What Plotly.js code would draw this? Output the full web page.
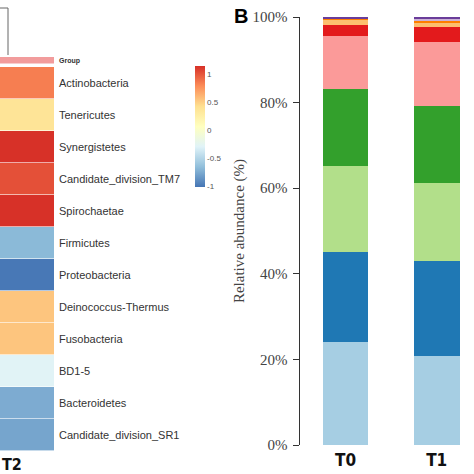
<!DOCTYPE html>
<html>
<head>
<meta charset="utf-8">
<script src="https://cdn.plot.ly/plotly-3.0.1.min.js"></script>
<style>html,body{margin:0;padding:0;background:#fff;}#chart{width:474px;height:474px;}</style>
</head>
<body>
<div id="chart"></div>
<script>
// ---- Heatmap (panel A, cropped: only column T2 visible) ----
var heatColumns = ['T2'];
var phyla = ['Actinobacteria','Tenericutes','Synergistetes','Candidate_division_TM7','Spirochaetae',
             'Firmicutes','Proteobacteria','Deinococcus-Thermus','Fusobacteria','BD1-5',
             'Bacteroidetes','Candidate_division_SR1'];
var heatValues = [0.85, 0.38, 1.15, 1.03, 1.15, -0.68, -1.0, 0.55, 0.55, -0.28, -0.75, -0.78];
var colorbarTicks = [-1, -0.5, 0, 0.5, 1];
var colorbarTickText = ['-1', '-0.5', '0', '0.5', '1'];
var groupLabel = 'Group';

// ---- Stacked bars (panel B) ----
var samples = ['T0', 'T1'];
var seriesNames = ['s1','s2','s3','s4','s5','s6','s7','s8','s9','s10'];
var seriesColors = ['#A6CEE3','#1F78B4','#B2DF8A','#33A02C','#FB9A99','#E31A1C','#FDBF6F','#FF7F00','#CAB2D6','#6A3D9A'];
var seriesT0 = [24.1, 21.0, 20.0, 18.0, 12.5, 2.6, 1.2, 0.2, 0.0, 0.4];
var seriesT1 = [20.8, 22.3, 18.0, 18.0, 15.1, 3.5, 1.0, 0.4, 0.5, 0.4];
var yTickVals = [0, 20, 40, 60, 80, 100];
var yTickText = ['0%', '20%', '40%', '60%', '80%', '100%'];
var yTitle = 'Relative abundance (%)';

var W = 474, H = 474;
function px(x){ return x / W; }
function py(y){ return 1 - y / H; }

var rdylbu = [
  [0, '#4575B4'], [1/6, '#91BFDB'], [2/6, '#E0F3F8'], [3/6, '#FFFFBF'],
  [4/6, '#FEE090'], [5/6, '#FC8D59'], [1, '#D73027']
];

var traces = [];
traces.push({
  type: 'heatmap',
  x: heatColumns,
  y: phyla,
  z: phyla.map(function(p, i){ return [heatValues[i]]; }),
  xaxis: 'x', yaxis: 'y',
  colorscale: rdylbu,
  zmin: -1.015, zmax: 1.154,
  ygap: 0.6,
  hoverinfo: 'skip',
  colorbar: {
    x: px(185), xanchor: 'left', xref: 'paper',
    y: py(126.5), yanchor: 'middle', yref: 'paper',
    len: 141 / H, lenmode: 'fraction',
    thickness: 10, thicknessmode: 'pixels',
    outlinewidth: 0,
    tickvals: colorbarTicks, ticktext: colorbarTickText,
    ticks: '', ticklabelpad: 4,
    tickfont: {family: 'Liberation Sans, Arial, sans-serif', size: 8, color: '#555'}
  }
});
traces.push({
  type: 'heatmap',
  x: heatColumns,
  y: [groupLabel],
  z: [[1]],
  xaxis: 'x3', yaxis: 'y3',
  colorscale: [[0, '#F29C9C'], [1, '#F29C9C']],
  showscale: false,
  hoverinfo: 'skip'
});

for (var i = 0; i < seriesNames.length; i++) {
  traces.push({
    type: 'bar',
    name: seriesNames[i],
    x: samples,
    y: [seriesT0[i], seriesT1[i]],
    xaxis: 'x2', yaxis: 'y2',
    width: 0.5,
    marker: {color: seriesColors[i], line: {width: 0}},
    hoverinfo: 'skip'
  });
}

var sansFont = 'Liberation Sans, Arial, sans-serif';
var serifFont = 'Liberation Serif, Times New Roman, serif';
var narrowBold = 'DejaVu Sans Condensed, Liberation Sans Narrow, Liberation Sans, sans-serif';

var layout = {
  width: W, height: H,
  margin: {l: 0, r: 0, t: 0, b: 0, pad: 0},
  paper_bgcolor: '#fff', plot_bgcolor: 'rgba(0,0,0,0)',
  showlegend: false,
  barmode: 'stack',
  xaxis: {domain: [0, px(54)], range: [-0.5, 0.5], showticklabels: false, ticks: '', showgrid: false, zeroline: false, fixedrange: true},
  yaxis: {domain: [py(451), py(67)], autorange: 'reversed', side: 'right', anchor: 'x', ticks: '', ticklabelstandoff: 4,
          showgrid: false, zeroline: false, tickfont: {family: sansFont, size: 11, color: '#333'}},
  xaxis3: {domain: [0, px(54)], range: [-0.5, 0.5], anchor: 'y3', showticklabels: false, ticks: '', showgrid: false, zeroline: false},
  yaxis3: {domain: [py(63.5), py(57)], anchor: 'x3', side: 'right', ticks: '', ticklabelstandoff: 4, showgrid: false, zeroline: false,
           tickfont: {family: sansFont, size: 7, color: '#333', weight: 'bold'}},
  xaxis2: {domain: [px(300), 1], range: [-0.5, 1.409], anchor: 'y2', showline: false, ticks: '', showgrid: false, zeroline: false,
           ticklabelstandoff: 3,
           tickfont: {family: narrowBold, size: 17, color: '#111', weight: 'bold'}},
  yaxis2: {domain: [py(445), py(17)], range: [0, 100], anchor: 'x2', position: px(300),
           showline: true, linecolor: '#333', linewidth: 1.5, ticks: 'outside', ticklen: 6, tickcolor: '#333', tickwidth: 1,
           tickvals: yTickVals, ticktext: yTickText, showgrid: false, zeroline: false, ticklabelstandoff: 2,
           tickfont: {family: serifFont, size: 15, color: '#444'},
           title: {text: yTitle, standoff: 4, font: {family: serifFont, size: 15, color: '#444'}}},
  shapes: [
    {type: 'line', xref: 'paper', yref: 'paper', x0: 0, x1: px(8), y0: py(8), y1: py(8), line: {color: '#666', width: 1}},
    {type: 'line', xref: 'paper', yref: 'paper', x0: px(8), x1: px(8), y0: py(8), y1: py(55), line: {color: '#666', width: 1}}
  ],
  annotations: [
    {text: 'B', xref: 'paper', yref: 'paper', x: px(232), y: py(16.5), xanchor: 'left', yanchor: 'middle', showarrow: false,
     font: {family: sansFont, size: 20, color: '#000', weight: 'bold'}},
    {text: 'T2', xref: 'paper', yref: 'paper', x: px(0), y: py(464), xanchor: 'left', yanchor: 'middle', showarrow: false,
     font: {family: narrowBold, size: 16, color: '#111', weight: 'bold'}}
  ]
};

Plotly.newPlot('chart', traces, layout, {staticPlot: true, displayModeBar: false});
</script>
</body>
</html>
